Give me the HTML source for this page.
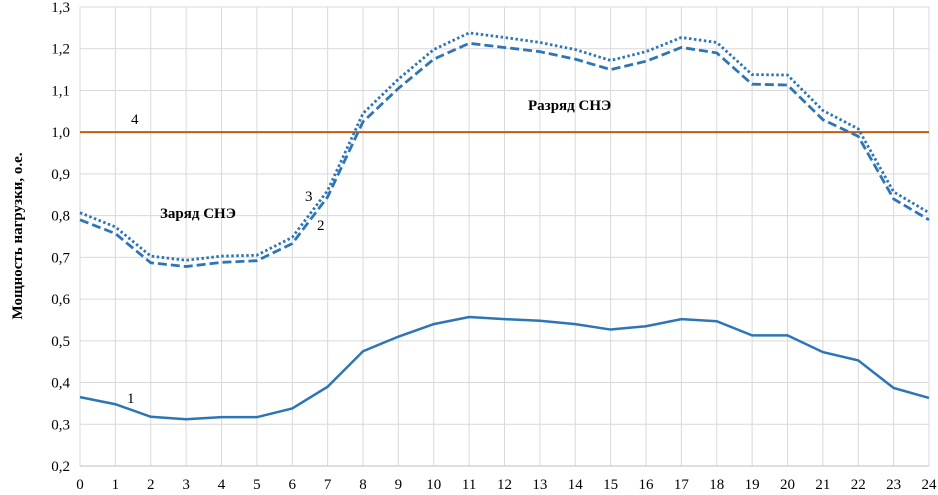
<!DOCTYPE html>
<html><head><meta charset="utf-8">
<style>
html,body{margin:0;padding:0;background:#fff;}
svg{display:block;font-family:"Liberation Serif",serif;}
</style></head>
<body>
<svg id="chart" width="938" height="495" viewBox="0 0 938 495" xmlns="http://www.w3.org/2000/svg">
<text transform="translate(22,236) rotate(-90)" text-anchor="middle" font-size="15" font-weight="bold">Мощность нагрузки, о.е.</text>
<g id="grid"></g><g id="axes"></g><g id="series"></g>
<text x="160" y="218" font-size="15" font-weight="bold">Заряд СНЭ</text>
<text x="528" y="110" font-size="15" font-weight="bold">Разряд СНЭ</text>
<text x="127" y="403" font-size="15">1</text>
<text x="317" y="230" font-size="15">2</text>
<text x="305" y="201" font-size="15">3</text>
<text x="131" y="124" font-size="15">4</text>
</svg>
<script>
const hours=[0,1,2,3,4,5,6,7,8,9,10,11,12,13,14,15,16,17,18,19,20,21,22,23,24];
const yTicks=[0.2,0.3,0.4,0.5,0.6,0.7,0.8,0.9,1.0,1.1,1.2,1.3];
const series1=[0.365,0.348,0.318,0.312,0.317,0.317,0.338,0.39,0.475,0.51,0.54,0.557,0.552,0.548,0.54,0.527,0.535,0.552,0.547,0.513,0.513,0.473,0.453,0.387,0.363];
const series2=[0.79,0.757,0.687,0.678,0.688,0.692,0.733,0.845,1.025,1.105,1.175,1.213,1.203,1.193,1.175,1.15,1.17,1.203,1.19,1.115,1.113,1.03,0.99,0.84,0.79];
const series3=[0.807,0.773,0.703,0.693,0.703,0.705,0.748,0.86,1.045,1.127,1.198,1.238,1.227,1.215,1.198,1.172,1.193,1.227,1.215,1.138,1.137,1.052,1.008,0.857,0.807];
const series4=[1.0,1.0];
const L=80,R=929,T=7,B=466;
const x=h=>L+(h-0)/(24-0)*(R-L);
const y=v=>B-(v-0.2)/(1.3-0.2)*(B-T);
const NS="http://www.w3.org/2000/svg";
function mk(tag,parent){const e=document.createElementNS(NS,tag);parent.appendChild(e);return e;}
const grid=document.getElementById('grid'),axes=document.getElementById('axes'),ser=document.getElementById('series');
hours.forEach(h=>{const l=mk('line',grid);


l.setAttribute('x1',x(h));l.setAttribute('x2',x(h));l.setAttribute('y1',T);l.setAttribute('y2',B);l.setAttribute('stroke','#d9d9d9');l.setAttribute('stroke-width','1');
const t=mk('text',axes);


t.setAttribute('x',x(h));t.setAttribute('y',489);t.setAttribute('text-anchor','middle');t.setAttribute('font-size','15');t.textContent=h;});
yTicks.forEach(v=>{const l=mk('line',grid);


l.setAttribute('x1',L);l.setAttribute('x2',R);l.setAttribute('y1',y(v));l.setAttribute('y2',y(v));l.setAttribute('stroke','#d9d9d9');l.setAttribute('stroke-width','1');
const t=mk('text',axes);


t.setAttribute('x',L-10);t.setAttribute('y',y(v)+5);t.setAttribute('text-anchor','end');t.setAttribute('font-size','15');t.textContent=v.toFixed(1).replace('.',',');});
const xa=mk('line',axes);


xa.setAttribute('x1',L);xa.setAttribute('x2',R);xa.setAttribute('y1',B);xa.setAttribute('y2',B);xa.setAttribute('stroke','#bfbfbf');
function line(data,name,color,dash,w){const p=mk('polyline',ser);


p.setAttribute('points',data.map((v,i)=>x(hours[i])+','+y(v)).join(' '));p.setAttribute('fill','none');p.setAttribute('stroke',color);p.setAttribute('stroke-width',w);if(dash)p.setAttribute('stroke-dasharray',dash);}
const h4=mk('line',ser);


h4.setAttribute('x1',x(0));h4.setAttribute('x2',x(24));h4.setAttribute('y1',y(series4[0]));h4.setAttribute('y2',y(series4[1]));h4.setAttribute('stroke','#c55a11');h4.setAttribute('stroke-width','2');
line(series3,'series-3-line','#2e75b6','2.5 2.5',2.8);
line(series2,'series-2-line','#2e75b6','9 4',2.8);
line(series1,'series-1-line','#2e75b6',null,2.5);
</script>
</body></html>
